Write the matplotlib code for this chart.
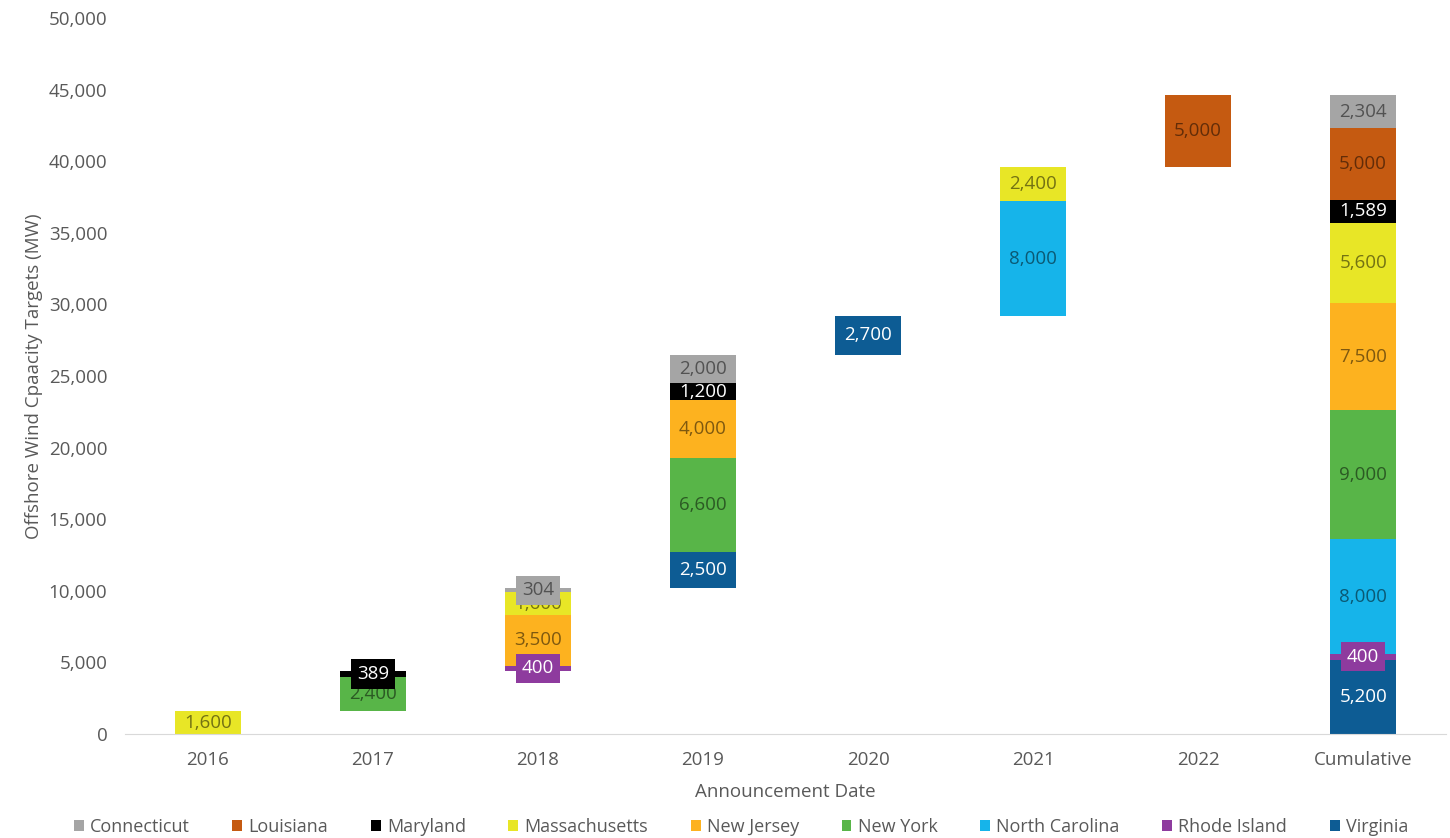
import matplotlib.pyplot as plt
import numpy as np

plt.rcParams['font.family'] = ['Open Sans', 'DejaVu Sans']

categories = ["2016", "2017", "2018", "2019", "2020", "2021", "2022", "Cumulative"]

# MW announced per state, by year (last column = cumulative target)
virginia = [0, 0, 0, 2500, 2700, 0, 0, 5200]
rhode_island = [0, 0, 400, 0, 0, 0, 0, 400]
north_carolina = [0, 0, 0, 0, 0, 8000, 0, 8000]
new_york = [0, 2400, 0, 6600, 0, 0, 0, 9000]
new_jersey = [0, 0, 3500, 4000, 0, 0, 0, 7500]
massachusetts = [1600, 0, 1600, 0, 0, 2400, 0, 5600]
maryland = [0, 389, 0, 1200, 0, 0, 0, 1589]
louisiana = [0, 0, 0, 0, 0, 0, 5000, 5000]
connecticut = [0, 0, 304, 2000, 0, 0, 0, 2304]

# stacking order, bottom to top
series = [
    ("Virginia", virginia, "#0D5C94", "white"),
    ("Rhode Island", rhode_island, "#8E3B9E", "white"),
    ("North Carolina", north_carolina, "#16B4EA", None),
    ("New York", new_york, "#58B548", None),
    ("New Jersey", new_jersey, "#FDB21F", None),
    ("Massachusetts", massachusetts, "#E8E626", None),
    ("Maryland", maryland, "#000000", "white"),
    ("Louisiana", louisiana, "#C55A11", None),
    ("Connecticut", connecticut, "#A5A5A5", None),
]

x = np.arange(len(categories))
vals = np.array([s[1] for s in series], dtype=float)
year_tot = vals.sum(axis=0)
# waterfall: each year starts where the previous ones ended, cumulative starts at 0
start = np.concatenate([[0], np.cumsum(year_tot[:-2])])
start = np.append(start, 0)

fig, ax = plt.subplots(figsize=(14.5, 8.38), dpi=100)
fig.subplots_adjust(left=0.0865, right=0.997, bottom=0.124, top=0.9785)

fs = 13.5

bottom = start.copy()
handles = []
for name, v, col, tcol in series:
    v = np.array(v, dtype=float)
    bars = ax.bar(x, v, 0.4, bottom=bottom, color=col, label=name, zorder=2)
    handles.append(bars)
    for xi, b, h in zip(x, bottom, v):
        if h <= 0:
            continue
        if tcol is None:
            txt_kw = dict(color="black", alpha=0.5)
        else:
            txt_kw = dict(color=tcol)
        # thin slices get a filled label box that sticks out of the bar
        box = None
        if h < 1000:
            box = dict(facecolor=col, edgecolor="none", boxstyle="square,pad=0.3")
        ax.text(xi, b + h / 2, f"{int(h):,}", ha="center", va="center",
                fontsize=fs, zorder=3, bbox=box, **txt_kw)
    bottom = bottom + v

ax.set_xlim(-0.5, len(categories) - 0.5)
ax.set_ylim(0, 50000)
ax.set_yticks(np.arange(0, 50001, 5000))
ax.yaxis.set_major_formatter(plt.FuncFormatter(lambda v, p: f"{int(v):,}"))
ax.set_xticks(x)
ax.set_xticklabels(categories)
ax.tick_params(length=0, labelsize=fs, colors="#595959")
ax.tick_params(axis="x", pad=12)
ax.tick_params(axis="y", pad=13)
for s in ["top", "right", "left"]:
    ax.spines[s].set_visible(False)
ax.spines["bottom"].set_color("#D9D9D9")

ax.set_xlabel("Announcement Date", fontsize=fs, color="#595959", labelpad=10)
ax.set_ylabel("Offshore Wind Cpaacity Targets (MW)", fontsize=fs,
              color="#595959", labelpad=4)

order = ["Connecticut", "Louisiana", "Maryland", "Massachusetts", "New Jersey",
         "New York", "North Carolina", "Rhode Island", "Virginia"]
hmap = {s[0]: h for s, h in zip(series, handles)}
leg = fig.legend([hmap[n] for n in order], order, loc="lower center",
                 bbox_to_anchor=(0.511, -0.017), ncol=9, frameon=False,
                 fontsize=13, handlelength=0.55, handleheight=0.55,
                 handletextpad=0.35, columnspacing=2.35)
for t in leg.get_texts():
    t.set_color("#595959")

fig.savefig("out.png", dpi=100)
